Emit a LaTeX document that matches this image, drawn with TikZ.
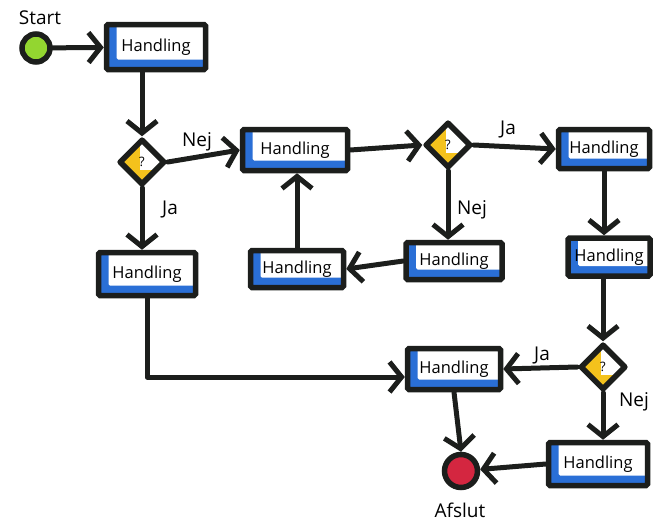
\documentclass[tikz,border=0pt]{standalone}
\usepackage{fontspec}
\setmainfont{Open Sans}
\usetikzlibrary{arrows.meta,shapes.geometric}
\definecolor{ink}{HTML}{1C1E1C}
\definecolor{boxblue}{HTML}{2A6FD6}
\definecolor{startgreen}{HTML}{93D630}
\definecolor{askyellow}{HTML}{F4C21C}
\definecolor{endred}{HTML}{D42640}
\begin{document}
\begin{tikzpicture}[x=1pt,y=-1pt,
  flow/.style={draw=ink, line width=5pt, line cap=round, line join=round,
    -{Straight Barb[length=12pt,width=30pt]}},
  act/.style={rectangle, draw=ink, line width=5.5pt, rounded corners=1.5pt,
    inner sep=0pt, font=\fontsize{16.5}{18}\selectfont,
    path picture={
      \fill[boxblue] (path picture bounding box.south west) rectangle (path picture bounding box.north east);
      \fill[white] ([xshift=10pt,yshift=10pt]path picture bounding box.south west) rectangle (path picture bounding box.north east);
    }},
  ask/.style={diamond, aspect=1, draw=ink, line width=5.5pt, line join=round,
    inner sep=0pt, minimum size=46pt, font=\fontsize{13}{15}\selectfont,
    path picture={
      \fill[askyellow] (path picture bounding box.south west) rectangle (path picture bounding box.north east);
      \fill[white] ([xshift=20pt,yshift=14pt]path picture bounding box.south west) rectangle ([xshift=30pt,yshift=30pt]path picture bounding box.north east);
    }},
  term/.style={circle, draw=ink, line width=5.5pt, inner sep=0pt},
  lbl/.style={font=\fontsize{19}{21}\selectfont, inner sep=0pt}
]
\useasboundingbox (0,0) rectangle (656,522);

% terminals
\node[term, fill=startgreen, minimum size=28pt] (start) at (36,48) {};
\node[term, fill=endred, minimum size=33pt] (stop) at (461,471) {};

% actions
\node[act, minimum width=99pt, minimum height=45pt] (b1) at (156,47) {Handling};
\node[act, minimum width=105pt, minimum height=41pt] (b2) at (295,150) {Handling};
\node[act, minimum width=97pt, minimum height=43pt] (b3) at (147,274) {Handling};
\node[act, minimum width=91pt, minimum height=39pt] (b4) at (604,149) {Handling};
\node[act, minimum width=96pt, minimum height=37pt] (b5) at (454,261) {Handling};
\node[act, minimum width=93pt, minimum height=37pt] (b6) at (297,269) {Handling};
\node[act, minimum width=82pt, minimum height=38pt] (b7) at (609,257) {Handling};
\node[act, minimum width=93pt, minimum height=41pt] (b8) at (454,369) {Handling};
\node[act, minimum width=99pt, minimum height=43pt] (b9) at (598,464) {Handling};

% decisions
\node[ask] (d1) at (142,162) {?};
\node[ask] (d2) at (448,145) {?};
\node[ask] (d3) at (603,367) {?};

% texts
\node[lbl] (tstart) at (40,18) {Start};
\node[lbl] (tend) at (460,510) {Afslut};
\node[lbl] (n1) at (197,142) {Nej};
\node[lbl] (j1) at (170,210) {Ja};
\node[lbl] (j2) at (508,130) {Ja};
\node[lbl] (n2) at (472,210) {Nej};
\node[lbl] (j3) at (542,355) {Ja};
\node[lbl] (n3) at (634,402) {Nej};

% connectors
\draw[flow] (start) -- (b1);
\draw[flow] (b1.south -| d1.north) -- (d1.north);
\draw[flow] (d1.east) -- (b2.west);
\draw[flow] (d1.south) -- (d1.south |- b3.north);
\draw[flow] (b2.east) -- (d2.west);
\draw[flow] (d2.east) -- (b4.west);
\draw[flow] (d2.south) -- (d2.south |- b5.north);
\draw[flow] (b5.west) -- (b6.east);
\draw[flow] (b6.north) -- (b6.north |- b2.south);
\draw[flow] (b4.south) -- (b4.south |- b7.north);
\draw[flow] (b7.south -| d3.north) -- (d3.north);
\draw[flow] (d3.west) -- (b8.east);
\draw[flow] (d3.south) -- (d3.south |- b9.north);
\draw[flow] (b3.south) |- ([yshift=-8pt]b8.west);
\draw[flow] (b9.west) -- (stop);
\draw[flow] (b8.south) -- (stop.north);
\end{tikzpicture}
\end{document}
